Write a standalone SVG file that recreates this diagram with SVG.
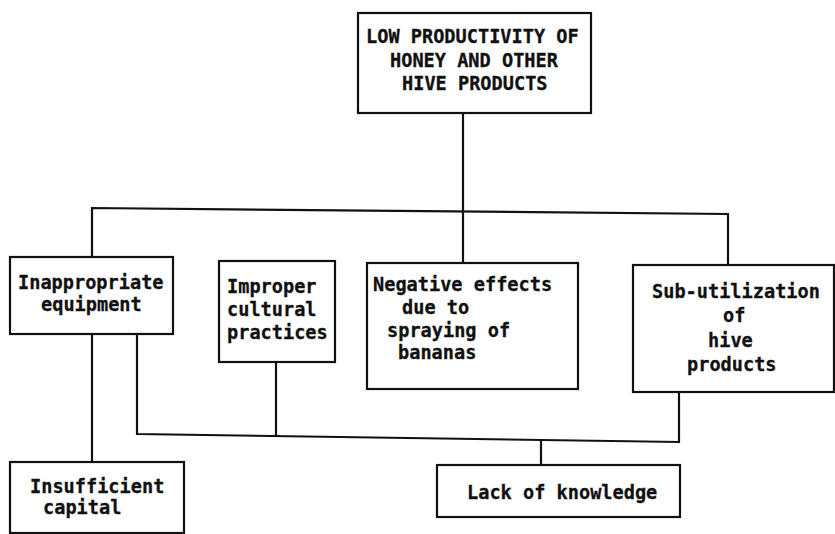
<svg xmlns="http://www.w3.org/2000/svg" width="835" height="534" viewBox="0 0 835 534">
  <style>
    .box { fill: #ffffff; stroke: #111111; stroke-width: 2.2; }
    .link { fill: none; stroke: #111111; stroke-width: 2.2; stroke-linejoin: miter; }
    text { font-family: "DejaVu Sans Mono", "Liberation Mono", monospace; font-weight: bold; font-size: 18.6px; fill: #111111; stroke: #111111; stroke-width: 0.3; }
  </style>
  <rect width="835" height="534" fill="#ffffff"/>

  <!-- connectors -->
  <g id="connectors">
    <!-- trunk from the main problem down to the middle cause -->
    <path class="link" d="M463,113 V263"/>
    <!-- top bus over the first-level causes -->
    <path class="link" d="M92,257 V208 L728,214 V265"/>
    <!-- equipment down to capital -->
    <path class="link" d="M92,334 V462"/>
    <!-- lower bus gathering causes into knowledge -->
    <path class="link" d="M137,334 V434 L679,442 V392"/>
    <path class="link" d="M276,362 V436"/>
    <path class="link" d="M541,440 V465"/>
  </g>

  <g id="main-problem">
    <rect class="box" x="358" y="13" width="233" height="100"/>
    <text x="366" y="43">LOW PRODUCTIVITY OF</text>
    <text x="390" y="67">HONEY AND OTHER</text>
    <text x="402" y="90">HIVE PRODUCTS</text>
  </g>

  <g id="inappropriate-equipment">
    <rect class="box" x="10" y="257" width="163" height="77"/>
    <text x="18" y="289">Inappropriate</text>
    <text x="41" y="311">equipment</text>
  </g>

  <g id="improper-practices">
    <rect class="box" x="219" y="261" width="116" height="101"/>
    <text x="227" y="293">Improper</text>
    <text x="227" y="316">cultural</text>
    <text x="227" y="339">practices</text>
  </g>

  <g id="negative-effects">
    <rect class="box" x="367" y="263" width="211" height="126"/>
    <text x="373" y="291">Negative effects</text>
    <text x="402" y="314">due to</text>
    <text x="387" y="337">spraying of</text>
    <text x="398" y="359">bananas</text>
  </g>

  <g id="sub-utilization">
    <rect class="box" x="633" y="265" width="201" height="127"/>
    <text x="652" y="298">Sub-utilization</text>
    <text x="723" y="322">of</text>
    <text x="708" y="347">hive</text>
    <text x="687" y="371">products</text>
  </g>

  <g id="insufficient-capital">
    <rect class="box" x="10" y="462" width="174" height="71"/>
    <text x="30" y="493">Insufficient</text>
    <text x="43" y="514">capital</text>
  </g>

  <g id="lack-of-knowledge">
    <rect class="box" x="437" y="465" width="243" height="52"/>
    <text x="467" y="499">Lack of knowledge</text>
  </g>
</svg>
